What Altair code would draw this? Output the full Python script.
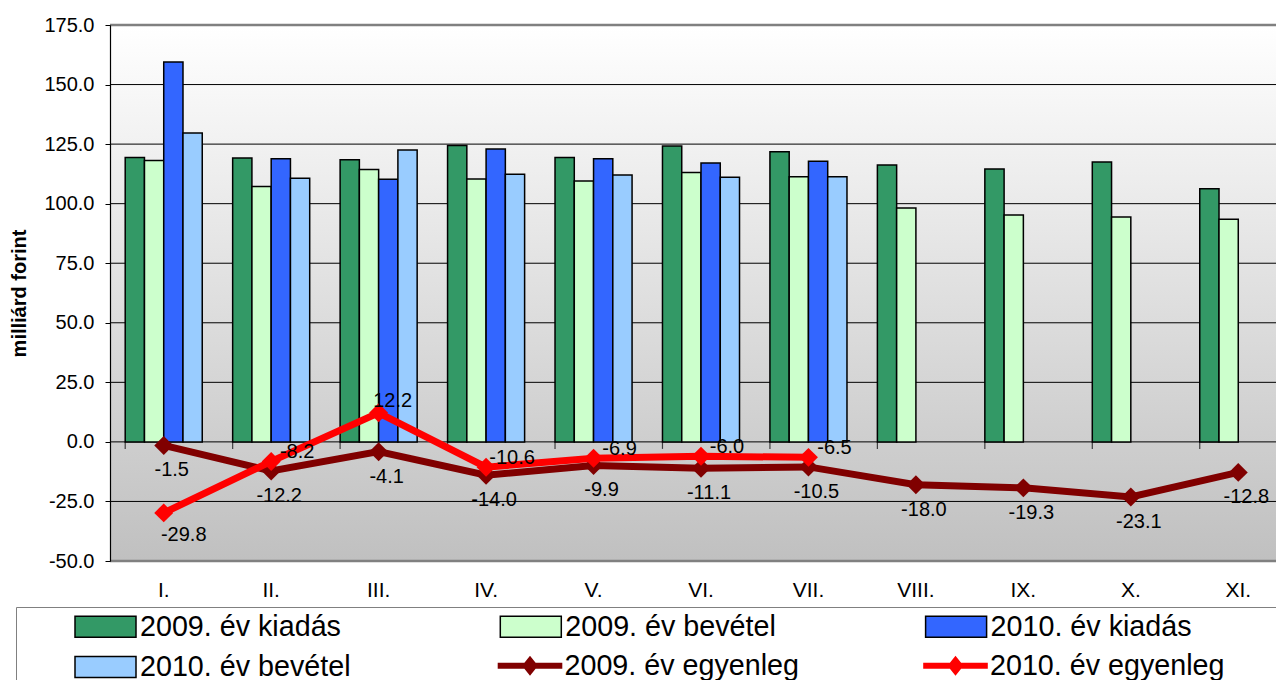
import altair as alt
import pandas as pd

# ---------------- data ----------------
months = ["I.", "II.", "III.", "IV.", "V.", "VI.", "VII.", "VIII.", "IX.", "X.", "XI."]
kiadas_2009 = [119.4, 119.2, 118.4, 124.4, 119.4, 124.2, 121.8, 116.2, 114.5, 117.5, 106.3]
bevetel_2009 = [118.1, 107.2, 114.3, 110.4, 109.5, 113.1, 111.3, 98.2, 95.2, 94.4, 93.5]
kiadas_2010 = [159.5, 118.9, 110.3, 123.0, 118.9, 117.1, 117.8]
bevetel_2010 = [129.7, 110.7, 122.5, 112.4, 112.0, 111.1, 111.3]
egyenleg_2009 = [-1.5, -12.2, -4.1, -14.0, -9.9, -11.1, -10.5, -18.0, -19.3, -23.1, -12.8]
egyenleg_2010 = [-29.8, -8.2, 12.2, -10.6, -6.9, -6.0, -6.5]
y_ticks = [-50, -25, 0, 25, 50, 75, 100, 125, 150, 175]

series = ["2009. év kiadás", "2009. év bevétel", "2010. év kiadás",
          "2010. év bevétel", "2009. év egyenleg", "2010. év egyenleg"]
colors = ["#339966", "#CCFFCC", "#3366FF", "#99CCFF", "#800000", "#FF0000"]

FONT = "Liberation Sans"

rows = []
for name, vals in zip(series[:4], [kiadas_2009, bevetel_2009, kiadas_2010, bevetel_2010]):
    for m, v in zip(months, vals):
        rows.append({"month": m, "series": name, "value": v})
bars_df = pd.DataFrame(rows)

lrows = []
for name, vals in zip(series[4:], [egyenleg_2009, egyenleg_2010]):
    for m, v in zip(months, vals):
        lrows.append({"month": m, "series": name, "value": v})
lines_df = pd.DataFrame(lrows)

months_df = pd.DataFrame({"month": months})
ticks_df = pd.DataFrame({"v": y_ticks})

# ---------------- scales / axes ----------------
W, H = 1182, 536
MINUS = "\u2212"
FMT = "replace(format(datum.value, '.1f'), '" + MINUS + "', '-')"

x_scale = alt.Scale(domain=months, paddingInner=0.283, paddingOuter=0.1415)
y_scale = alt.Scale(domain=[-50, 175], nice=False)
bar_scale = alt.Scale(domain=series[:4], range=colors[:4])
bal_scale = alt.Scale(domain=series[4:], range=colors[4:])

x_axis = alt.Axis(title=None, labelFontSize=21, labelColor="black", labelAngle=0,
                  ticks=False, domain=False, labelPadding=18, grid=False)
y_axis = alt.Axis(title="milliárd forint", titleFontSize=20, titleFontWeight="bold",
                  titleColor="black", titlePadding=14, values=y_ticks, labelExpr=FMT,
                  labelFontSize=20, labelColor="black", labelPadding=11, tickSize=5,
                  tickColor="black", domainColor="black", domainWidth=1.2, grid=False, zindex=1)

x_enc = alt.X("month:N", scale=x_scale, axis=x_axis, title=None)
y_enc = alt.Y("value:Q", scale=y_scale, axis=y_axis, title="milliárd forint")

# ---------------- legends ----------------
# symbol paths are scaled by sqrt(symbolSize)/2 = 10 px per unit
RECT = "M-3.05,-1.05H3.05V1.05H-3.05Z"
LINE = "M-3.23,-0.305H3.23V0.305H-3.23Z M0,-1L0.8,0L0,1L-0.8,0Z"
BLANK = "\u2800" * 16   # blank (non-whitespace) glyphs: widen the legend frame to the right
LEG_COMMON = dict(
    direction="horizontal", gridAlign="each", symbolSize=400, symbolOffset=17.15,
    symbolStrokeWidth=1.5, symbolOpacity=1, labelFontSize=28.7, labelColor="black",
    labelFont=FONT, labelOffset=20.15, labelLimit=2000,
)

leg_bars = alt.Legend(
    title=".", titleOrient="left", titleFontSize=10, titleOpacity=0, titlePadding=50,
    orient="none", legendX=-94, legendY=582,
    columns=3, columnPadding=146.3, rowPadding=10.6,
    padding=5, strokeColor="#808080",
    symbolType=RECT, symbolStrokeColor="black",
    labelExpr="datum.value == '" + series[2] + "' ? datum.label + '" + BLANK + "' : datum.label",
    **LEG_COMMON,
)
leg_bal = alt.Legend(
    title=None, orient="none", legendX=388.5, legendY=626,
    columns=2, columnPadding=120.5, padding=0,
    symbolType=LINE, symbolStrokeColor="transparent",
    **LEG_COMMON,
)

# ---------------- layers ----------------
bg = alt.Chart(months_df).transform_aggregate(n="count()").mark_rect(
    fill=alt.LinearGradient(
        gradient="linear",
        stops=[alt.GradientStop(color="#ffffff", offset=0),
               alt.GradientStop(color="#c0c0c0", offset=1)],
        x1=0, x2=0, y1=0, y2=1)
).encode(
    x=alt.value(0), x2=alt.value("width"),
    y=alt.YDatum(175, scale=y_scale, axis=y_axis, title="milliárd forint"),
    y2=alt.Y2Datum(-50),
)

grid = alt.Chart(ticks_df).mark_rule().encode(
    x=alt.value(0), x2=alt.value("width"),
    y=alt.Y("v:Q", scale=y_scale, axis=y_axis, title="milliárd forint"),
    color=alt.condition("datum.v == 175 || datum.v == -50", alt.value("#808080"), alt.value("#000000")),
    strokeWidth=alt.condition("datum.v == 175 || datum.v == -50", alt.value(2.5), alt.value(1)),
)

zero_ticks = alt.Chart(months_df).mark_tick(
    orient="vertical", size=7, thickness=1.2, color="black", yOffset=3.5
).encode(
    x=alt.X("month:N", scale=x_scale, axis=x_axis, title=None, bandPosition=0),
    y=alt.YDatum(0, scale=y_scale, axis=y_axis, title="milliárd forint"),
)

bars = alt.Chart(bars_df).mark_bar(stroke="black", strokeWidth=1.5).encode(
    x=x_enc,
    xOffset=alt.XOffset("series:N", scale=alt.Scale(domain=series[:4], paddingInner=0, paddingOuter=0)),
    y=y_enc,
    y2=alt.Y2Datum(0),
    fill=alt.Fill("series:N", scale=bar_scale, legend=leg_bars),
)


def balance_layers(name, line_color):
    d = alt.Chart(lines_df).transform_filter(alt.datum.series == name)
    ln = d.mark_line(strokeWidth=7, stroke=line_color).encode(x=x_enc, y=y_enc)
    pt = d.mark_point(shape="diamond", filled=True, size=360, opacity=1).encode(
        x=x_enc, y=y_enc, color=alt.Color("series:N", scale=bal_scale, legend=leg_bal))
    return ln, pt


ln09, pt09 = balance_layers(series[4], colors[4])
ln10, pt10 = balance_layers(series[5], colors[5])

txt = dict(fontSize=20, color="black")
lab_text = alt.Text("lbl:N")
lab09 = alt.Chart(lines_df).transform_filter(alt.datum.series == series[4]).transform_calculate(
    lbl=FMT).mark_text(dx=8, dy=25, **txt).encode(x=x_enc, y=y_enc, text=lab_text)

base10 = alt.Chart(lines_df).transform_filter(alt.datum.series == series[5]).transform_calculate(lbl=FMT)
lab10a = base10.transform_filter("datum.value < -15").mark_text(dx=20, dy=22, **txt).encode(
    x=x_enc, y=y_enc, text=lab_text)
lab10b = base10.transform_filter("datum.value > 0").mark_text(dx=14, dy=-12, **txt).encode(
    x=x_enc, y=y_enc, text=lab_text)
lab10c = base10.transform_filter("datum.value <= 0 && datum.value >= -15").mark_text(
    dx=26, dy=-9, **txt).encode(x=x_enc, y=y_enc, text=lab_text)

chart = alt.layer(bg, grid, zero_ticks, bars, ln09, pt09, ln10, pt10,
                  lab09, lab10a, lab10b, lab10c).properties(
    width=W, height=H,
    autosize=alt.AutoSizeParams(type="none"),
    padding={"left": 102, "top": 17, "right": -16, "bottom": 119},
    background="white",
    view=alt.ViewBackground(stroke="transparent"),
).configure(font=FONT)

chart.save("out.html", embed_options={"renderer": "svg", "actions": False})
